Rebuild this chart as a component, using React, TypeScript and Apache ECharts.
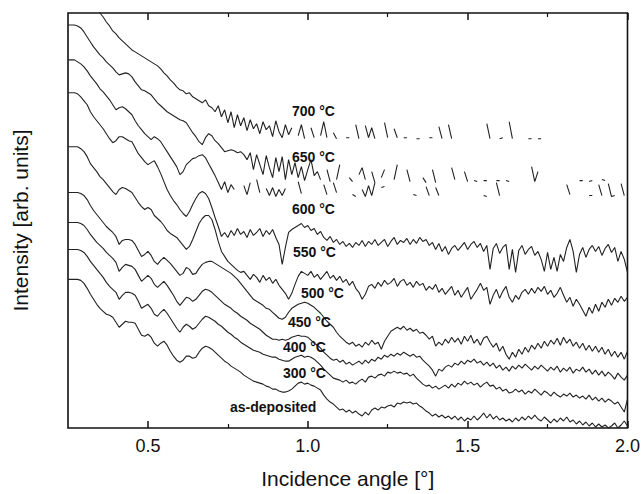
import React, { useEffect, useRef } from "react";
import * as echarts from "echarts";

const _ = null;

// Scan grid: incidence angle from 0.25° in 0.01° steps (176 points per curve)
const ANGLE_START = 0.25;
const ANGLE_STEP = 0.01;

const X_MAJOR = [0.5, 1.0, 1.5, 2.0];
const X_MINOR = [0.75, 1.25, 1.75];

const CURVE_NAMES = ["700 °C", "650 °C", "600 °C", "550 °C", "500 °C", "450 °C", "400 °C", "300 °C", "as-deposited"];

// Intensity (arb. units, log scale with vertical offsets), one value per grid step; null = no data
const I700 = [
  469, 464, 458, 451, 446, 441, 436, 430, 425, 420,
  416, 412, 407, 403, 398, 395, 391, 388, 385, 382,
  379, 377, 375, 373, 371, 369, 367, 365, 363, 360,
  356, 353, 349, 346, 342, 339, 338, 335, 336, 332,
  330, 328, 326, 329, 323, 321, 317, 323, 312, 319,
  306, 317, 301, 314, 303, 311, 298, 309, 300, 305,
  295, 307, 299, 303, 292, 308, 297, 291, 304, 294,
  301, _, 293, 304, 290, _, 301, 291, _, 293,
  307, 291, _, 296, 290, _, _, 291, 291, _,
  304, 290, _, 303, 291, 301, 290, _, _, 306,
  291, _, 300, 291, _, 291, 291, _, _, 290,
  290, _, _, 291, 291, _, 302, 290, _, 304,
  290, _, _, _, _, _, _, _, _, _,
  _, 305, 290, _, _, 290, 291, _, 307, 290,
  _, _, _, _, 290, 290, _, 290, 290, _,
  _, _, _, _, _, _, _, _, _, _,
  _, _, _, _, _, _, _, _, _, _,
  _, _, _, _, _, _,
];

const I650 = [
  404, 404, 404, 403, 401, 397, 392, 387, 382, 378,
  374, 371, 367, 364, 361, 357, 354, 355, 356, 355,
  352, 347, 343, 339, 338, 336, 334, 330, 326, 323,
  320, 317, 315, 313, 311, 309, 308, 306, 301, 296,
  292, 287, 284, 291, 295, 293, 288, 285, 281, 277,
  278, 279, 278, 276, 277, 274, 269, 276, 259, 274,
  264, 254, 273, 261, 251, 271, 257, 272, 249, 269,
  254, 266, 251, 262, 248, 259, 269, 253, 257, 249,
  _, 259, 247, _, 249, 264, _, _, 251, 247,
  _, 254, 261, 249, _, 257, 246, _, 251, 259,
  _, _, 249, 264, _, _, 259, 247, _, _,
  _, 251, 246, _, 259, 246, _, _, _, _,
  261, 249, _, _, 257, 247, _, 248, 247, _,
  248, 248, _, _, 248, 248, _, 248, 247, _,
  _, _, _, _, _, 262, 247, 257, _, _,
  _, _, _, _, _, _, _, _, _, _,
  248, 248, _, 247, 248, _, _, 249, 248, _,
  _, _, _, _, _, _,
];

const I600 = [
  369, 369, 369, 367, 365, 362, 358, 353, 349, 345,
  340, 337, 333, 329, 324, 319, 321, 322, 320, 317,
  314, 308, 303, 299, 295, 292, 289, 292, 290, 287,
  282, 277, 272, 267, 262, 254, 257, 264, 267, 270,
  271, 273, 274, 271, 265, 259, 253, 246, 239, 247,
  236, 244, 239, _, _, 243, 234, 246, _, 249,
  236, _, 240, 233, 241, 232, 239, 233, 240, _,
  _, _, 247, 235, _, _, _, _, _, _,
  244, 234, _, 246, 236, _, _, _, _, 234,
  232, _, 239, 232, 243, 233, 246, _, 241, 242,
  _, _, _, _, _, _, _, _, 234, 233,
  _, _, 242, 233, _, 241, 233, _, _, _,
  _, _, _, _, _, _, _, _, _, _,
  233, 232, _, _, 246, 233, _, _, _, _,
  _, _, _, _, _, _, _, _, _, _,
  _, _, _, _, _, _, 244, 234, _, _,
  _, _, _, 233, 233, _, 244, 233, _, 245,
  232, 233, _, 245, 233, _,
];

const I550 = [
  336, 336, 336, 335, 332, 328, 324, 317, 312, 308,
  304, 300, 295, 290, 286, 288, 292, 292, 290, 288,
  287, 281, 275, 271, 267, 264, 266, 268, 262, 255,
  247, 239, 233, 228, 224, 219, 215, 212, 217, 224,
  230, 235, 237, 235, 230, 221, 211, 202, 192, 196,
  191, 198, 193, 200, 194, 197, 191, 199, 193, 196,
  200, 192, 198, 194, 199, 191, 184, 164, 181, 196,
  199, 201, 203, 205, 201, 203, 198, 200, 194, 197,
  191, 188, 192, 186, 189, 184, 187, 182, 185, 181,
  186, 183, 188, 182, 187, 184, 189, 183, 186, 189,
  182, 187, 191, 184, 188, 186, 190, 184, 189, 185,
  191, 187, 189, 183, 186, 179, 185, 177, 182, 174,
  180, 183, 178, 182, 186, 179, 184, 187, 181, 185,
  177, 183, 159, 180, 185, 175, 181, 184, 159, 179,
  156, 178, 183, 174, 179, 182, 173, 177, 169, 157,
  176, 159, 171, 157, 174, 167, 181, 189, 177, 156,
  174, 181, 171, 179, 183, 177, 182, 173, 180, 184,
  176, 181, 167, 177, 169, 156,
];

const I500 = [
  282, 282, 282, 282, 280, 277, 272, 265, 261, 257,
  252, 249, 245, 241, 237, 234, 239, 241, 240, 238,
  236, 231, 226, 222, 219, 221, 219, 213, 210, 207,
  203, 198, 195, 193, 191, 187, 183, 179, 182, 189,
  197, 205, 210, 213, 213, 209, 199, 187, 177, 172,
  167, 164, 161, 158, 156, 157, 153, 149, 154, 151,
  146, 153, 148, 151, 145, 149, 143, 139, 135, 129,
  135, 144, 152, 157, 155, 153, 157, 151, 154, 149,
  153, 157, 150, 153, 148, 152, 146, 149, 143, 147,
  140, 136, 129, 134, 142, 144, 140, 146, 142, 148,
  144, 146, 150, 142, 147, 149, 143, 146, 141, 147,
  143, 145, 138, 142, 139, 144, 136, 140, 134, 138,
  142, 133, 138, 131, 136, 141, 129, 134, 139, 145,
  138, 141, 124, 133, 139, 130, 137, 142, 131, 126,
  133, 129, 136, 139, 134, 140, 135, 141, 137, 142,
  134, 138, 131, 135, 141, 133, 126, 131, 122, 129,
  124, 118, 112, 121, 115, 124, 117, 126, 121, 129,
  123, 130, 126, 132, 127, 131,
];

const I450 = [
  236, 236, 236, 236, 235, 233, 229, 223, 218, 214,
  210, 206, 202, 199, 196, 192, 184, 188, 189, 189,
  188, 184, 178, 172, 174, 177, 173, 167, 164, 168,
  171, 168, 165, 161, 157, 153, 155, 161, 159, 154,
  155, 160, 164, 166, 167, 167, 165, 163, 161, 159,
  157, 155, 152, 149, 145, 141, 137, 133, 129, 127,
  125, 123, 120, 119, 116, 113, 110, 109, 111, 116,
  120, 122, 124, 125, 126, 125, 123, 121, 118, 115,
  111, 107, 104, 101, 96, 92, 89, 86, 84, 86,
  82, 84, 81, 86, 83, 88, 84, 86, 79, 87,
  92, 97, 99, 101, 99, 102, 98, 100, 97, 99,
  95, 96, 93, 89, 92, 82, 86, 83, 89, 85,
  91, 86, 90, 84, 92, 87, 93, 85, 89, 83,
  90, 92, 86, 81, 85, 77, 82, 74, 69, 76,
  71, 79, 74, 81, 76, 83, 79, 85, 80, 87,
  82, 88, 84, 90, 83, 91, 85, 89, 82, 86,
  80, 85, 78, 83, 77, 82, 76, 81, 74, 79,
  72, 77, 71, 76, 69, 77,
];

const I400 = [
  206, 206, 206, 206, 205, 203, 199, 194, 190, 186,
  183, 180, 176, 173, 170, 166, 157, 161, 164, 163,
  162, 159, 153, 147, 150, 153, 150, 144, 141, 144,
  147, 143, 138, 133, 127, 123, 127, 131, 130, 127,
  129, 133, 137, 139, 138, 136, 133, 130, 127, 124,
  122, 120, 117, 115, 112, 110, 108, 105, 103, 101,
  99, 96, 93, 91, 89, 89, 88, 89, 88, 89,
  91, 92, 93, 92, 92, 91, 88, 85, 83, 80,
  76, 73, 70, 68, 69, 66, 68, 64, 66, 63,
  65, 67, 64, 68, 65, 69, 67, 71, 69, 73,
  71, 74, 72, 75, 73, 76, 74, 72, 74, 71,
  72, 68, 65, 62, 58, 52, 59, 57, 61, 63,
  61, 65, 63, 67, 64, 68, 66, 69, 65, 67,
  63, 66, 62, 65, 60, 63, 58, 61, 57, 62,
  59, 63, 60, 64, 61, 58, 62, 59, 63, 60,
  57, 61, 58, 62, 56, 60, 57, 61, 55, 59,
  57, 61, 56, 59, 54, 58, 53, 57, 52, 56,
  53, 49, 55, 51, 48, 53,
];

const I300 = [
  179, 179, 179, 179, 178, 176, 172, 167, 163, 159,
  155, 151, 146, 142, 139, 136, 129, 133, 136, 136,
  135, 133, 127, 120, 122, 124, 120, 114, 112, 116,
  119, 115, 110, 105, 100, 96, 101, 104, 102, 99,
  101, 105, 109, 112, 111, 109, 107, 104, 102, 99,
  96, 94, 91, 89, 86, 84, 82, 80, 78, 77,
  76, 74, 73, 72, 71, 71, 69, 68, 67, 67,
  69, 71, 72, 73, 71, 72, 71, 69, 66, 63,
  59, 56, 53, 50, 49, 48, 46, 48, 45, 46,
  44, 47, 49, 46, 51, 52, 50, 53, 54, 52,
  56, 55, 57, 55, 56, 54, 55, 52, 54, 50,
  47, 44, 42, 43, 40, 42, 39, 41, 43, 40,
  44, 41, 45, 43, 47, 44, 46, 43, 45, 41,
  44, 46, 42, 43, 39, 41, 37, 39, 35, 36,
  39, 36, 38, 34, 37, 35, 39, 36, 33, 37,
  35, 32, 36, 33, 31, 34, 32, 35, 31, 33,
  30, 32, 29, 33, 28, 31, 27, 30, 26, 29,
  27, 24, 26, 21, 16, 29,
];

const IASDEP = [
  149, 149, 149, 149, 148, 145, 140, 134, 129, 124,
  120, 117, 114, 113, 111, 106, 101, 104, 107, 106,
  106, 105, 99, 93, 92, 94, 91, 85, 82, 85,
  87, 83, 77, 72, 68, 66, 68, 72, 72, 70,
  71, 76, 80, 82, 81, 79, 76, 73, 70, 67,
  65, 62, 60, 58, 56, 53, 51, 49, 47, 46,
  45, 44, 42, 41, 39, 39, 37, 36, 36, 37,
  39, 42, 45, 46, 44, 45, 43, 42, 40, 38,
  33, 29, 26, 24, 21, 18, 19, 16, 18, 15,
  17, 14, 12, 16, 13, 18, 20, 18, 21, 20,
  22, 23, 21, 25, 24, 26, 25, 26, 24, 25,
  22, 20, 17, 15, 12, 14, 11, 13, 10, 12,
  9, 12, 8, 11, 7, 10, 8, 12, 8, 11,
  15, 10, 14, 9, 12, 8, 10, 7, 9, 6,
  10, 7, 11, 8, 12, 9, 13, 9, 7, 11,
  8, 5, 9, 6, 10, 7, 11, 6, 8, 4,
  7, 3, 6, 2, 5, 1, 4, 1, 3, 0,
  2, 5, 0, 3, 7, 2,
];

const CURVES = [I700, I650, I600, I550, I500, I450, I400, I300, IASDEP];

// label placement (pixels) for each curve's text
const LABEL_POS: [number, number][] = [
  [292, 111], [292, 157], [292, 209], [293, 252], [301, 293],
  [288, 322], [283, 347], [283, 373], [230, 407],
];

const FONT = 'Arial, "Liberation Sans", Helvetica, sans-serif';

export default function App() {
  const ref = useRef<HTMLDivElement>(null);

  useEffect(() => {
    const chart = echarts.init(ref.current!, null, { renderer: "svg" });

    const toData = (ys: (number | null)[]) =>
      ys.map((v, i) => [Number((ANGLE_START + i * ANGLE_STEP).toFixed(2)), v === null ? "-" : v]);

    const baseX = { type: "value", min: 0.25, max: 2.0, axisLine: { show: false }, splitLine: { show: false } };

    const option: any = {
      animation: false,
      backgroundColor: "#fff",
      grid: {
        left: 68, right: 11, top: 13, bottom: 65,
        show: true, borderColor: "#111", borderWidth: 1.6, backgroundColor: "transparent",
      },
      xAxis: [
        {
          ...baseX,
          position: "bottom",
          name: "Incidence angle [°]",
          nameLocation: "middle",
          nameGap: 40,
          nameTextStyle: { fontFamily: FONT, fontSize: 21, color: "#111" },
          axisTick: { show: true, inside: true, length: 7, lineStyle: { color: "#111", width: 1.5 }, customValues: X_MAJOR },
          axisLabel: {
            show: true, margin: 9, customValues: X_MAJOR,
            formatter: (v: number) => v.toFixed(1),
            fontFamily: FONT, fontSize: 18, color: "#111",
          },
        },
        {
          ...baseX,
          position: "bottom",
          axisTick: { show: true, inside: true, length: 4, lineStyle: { color: "#111", width: 1.2 }, customValues: X_MINOR },
          axisLabel: { show: false },
        },
        {
          ...baseX,
          position: "top",
          axisTick: { show: true, inside: true, length: 7, lineStyle: { color: "#111", width: 1.5 }, customValues: X_MAJOR },
          axisLabel: { show: false },
        },
        {
          ...baseX,
          position: "top",
          axisTick: { show: true, inside: true, length: 4, lineStyle: { color: "#111", width: 1.2 }, customValues: X_MINOR },
          axisLabel: { show: false },
        },
      ],
      yAxis: {
        type: "value",
        min: 0,
        max: 416,
        name: "Intensity [arb. units]",
        nameLocation: "middle",
        nameGap: 37,
        nameTextStyle: { fontFamily: FONT, fontSize: 21, color: "#111" },
        axisLine: { show: false },
        axisTick: { show: false },
        axisLabel: { show: false },
        splitLine: { show: false },
      },
      series: CURVES.map((ys, k) => ({
        name: CURVE_NAMES[k],
        type: "line",
        xAxisIndex: 0,
        yAxisIndex: 0,
        data: toData(ys),
        showSymbol: false,
        symbol: "none",
        connectNulls: false,
        clip: true,
        lineStyle: { color: "#222", width: 1.1 },
      })),
      graphic: CURVE_NAMES.map((name, k) => ({
        type: "text",
        x: LABEL_POS[k][0],
        y: LABEL_POS[k][1],
        z: 10,
        style: {
          text: name,
          fill: "#111",
          font: `bold 14px ${FONT}`,
          textVerticalAlign: "middle",
          verticalAlign: "middle",
        },
      })),
    };

    chart.setOption(option);
    return () => chart.dispose();
  }, []);

  return <div ref={ref} style={{ position: "fixed", left: 0, top: 0, width: 643, height: 494 }} />;
}
